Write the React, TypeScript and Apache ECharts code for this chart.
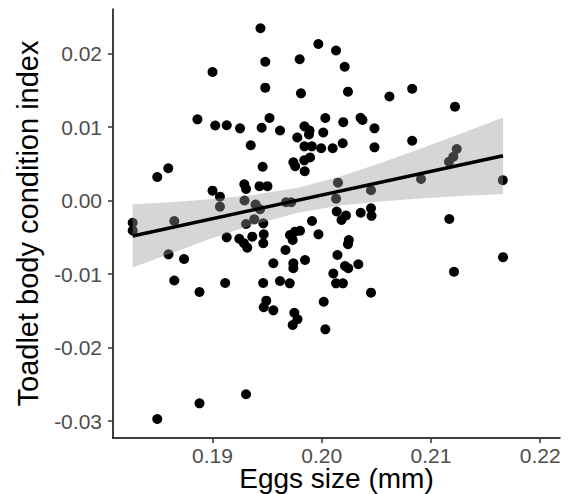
import React, { useEffect, useRef } from "react";
import * as echarts from "echarts";

// Egg size (mm) of each clutch
const eggSize = [
  0.19439, 0.19483, 0.19000, 0.19483, 0.18862, 0.19025, 0.19130, 0.19252, 0.19450, 0.19522,
  0.19618, 0.19350, 0.19459, 0.18595, 0.18494, 0.19000, 0.19068, 0.19291, 0.19307, 0.19430,
  0.19503, 0.19969, 0.19798, 0.20131, 0.20210, 0.19810, 0.20240, 0.20620, 0.20828, 0.21220,
  0.20033, 0.20197, 0.20355, 0.20373, 0.20483, 0.19842, 0.19888, 0.19883, 0.20014, 0.19776,
  0.19842, 0.19909, 0.19995, 0.20100, 0.20192, 0.20483, 0.20828, 0.19740, 0.19757, 0.19840,
  0.19893, 0.19844, 0.20149, 0.20131, 0.20451, 0.20909, 0.21165, 0.21205, 0.21236, 0.21658,
  0.19673, 0.19721, 0.19068, 0.19293, 0.19394, 0.19435, 0.18269, 0.18269, 0.18650, 0.19307,
  0.19382, 0.19465, 0.18597, 0.20137, 0.20222, 0.20181, 0.20357, 0.20451, 0.20456, 0.21168,
  0.19911, 0.19130, 0.19245, 0.19288, 0.19318, 0.19364, 0.19469, 0.19465, 0.18739, 0.19557,
  0.19709, 0.19755, 0.19801, 0.19734, 0.19970, 0.19668, 0.19740, 0.19740, 0.19847, 0.18650,
  0.18881, 0.19116, 0.19464, 0.19618, 0.19707, 0.19492, 0.19469, 0.19557, 0.20018, 0.19749,
  0.19778, 0.19734, 0.20033, 0.20144, 0.20248, 0.20240, 0.20213, 0.20243, 0.20335, 0.20106,
  0.20131, 0.20194, 0.20451, 0.21660, 0.21211, 0.19307, 0.18881, 0.18494,
];

// Toadlet body condition index
const conditionIndex = [
  0.02345, 0.01890, 0.01750, 0.01537, 0.01106, 0.01022, 0.01026, 0.00984, 0.00992, 0.01124,
  0.00954, 0.00753, 0.00461, 0.00440, 0.00321, 0.00135, 0.00053, 0.00223, 0.00158, 0.00196,
  0.00196, 0.02131, 0.01924, 0.02043, 0.01822, 0.01460, 0.01482, 0.01417, 0.01522, 0.01278,
  0.01124, 0.01067, 0.01128, 0.01097, 0.00984, 0.01011, 0.00954, 0.00900, 0.00927, 0.00859,
  0.00739, 0.00739, 0.00712, 0.00712, 0.00781, 0.00725, 0.00815, 0.00521, 0.00468, 0.00548,
  0.00587, 0.00399, 0.00244, 0.00026, 0.00142, 0.00294, 0.00529, 0.00597, 0.00702, 0.00278,
  -0.00023, -0.00023, -0.00083, 0.00001, -0.00053, -0.00118, -0.00301, -0.00407, -0.00278, -0.00319,
  -0.00255, -0.00309, -0.00731, -0.00148, -0.00203, -0.00264, -0.00165, -0.00105, -0.00207, -0.00250,
  -0.00278, -0.00500, -0.00519, -0.00581, -0.00641, -0.00491, -0.00459, -0.00581, -0.00795, -0.00853,
  -0.00468, -0.00423, -0.00410, -0.00536, -0.00459, -0.00672, -0.00853, -0.00921, -0.00808, -0.01087,
  -0.01244, -0.01121, -0.01121, -0.01094, -0.01126, -0.01362, -0.01452, -0.01493, -0.01376, -0.01526,
  -0.01615, -0.01693, -0.01752, -0.00740, -0.00536, -0.00593, -0.00890, -0.00921, -0.00866, -0.00992,
  -0.01126, -0.01126, -0.01253, -0.00770, -0.00968, -0.02636, -0.02759, -0.02972,
];

// Linear fit (end points) and its confidence band
const fitX = [0.18269, 0.2166];
const fitY = [-0.00482, 0.00611];
const bandX = [0.18269, 0.18611, 0.18977, 0.19343, 0.19783, 0.20167, 0.20533, 0.209, 0.21266, 0.2166];
const bandUpper = [-0.00051, -0.00021, 0.00017, 0.0007, 0.00176, 0.00328, 0.00508, 0.00704, 0.00908, 0.01131];
const bandLower = [-0.00912, -0.00722, -0.00524, -0.00341, -0.00164, -0.00068, -0.00012, 0.00028, 0.00061, 0.00091];

// Axes
const xTicks = [0.19, 0.2, 0.21, 0.22];
const yTicks = [-0.03, -0.02, -0.01, 0, 0.01, 0.02];
const xRange = [0.180888, 0.221815];
const yRange = [-0.032308, 0.026075];

const FONT = '"Liberation Sans", Arial, Helvetica, sans-serif';

export default function App() {
  const ref = useRef<HTMLDivElement>(null);

  useEffect(() => {
    if (!ref.current) return;
    const chart = echarts.init(ref.current, undefined, { renderer: "svg" });

    const points = eggSize.map((x, i) => [x, conditionIndex[i]]);
    const bandData = bandX.map((x, i) => [x, bandLower[i], bandUpper[i]]);

    chart.setOption({
      animation: false,
      backgroundColor: "#ffffff",
      textStyle: { fontFamily: FONT },
      grid: {
        left: 113,
        right: 13,
        top: 9,
        bottom: 56,
        containLabel: false,
        outerBoundsMode: "none",
      },
      xAxis: {
        type: "value",
        min: xRange[0],
        max: xRange[1],
        name: "Eggs size (mm)",
        nameLocation: "middle",
        nameGap: 26,
        nameMoveOverlap: false,
        nameTextStyle: { fontSize: 28, lineHeight: 28, color: "#000000", fontFamily: FONT },
        splitLine: { show: false },
        axisLine: { show: true, onZero: false, lineStyle: { color: "#000000", width: 1.5 } },
        axisTick: {
          show: true,
          length: 5,
          lineStyle: { color: "#333333", width: 1.5 },
          customValues: xTicks,
        },
        axisLabel: {
          fontSize: 21,
          lineHeight: 21,
          color: "#4D4D4D",
          margin: 7,
          fontFamily: FONT,
          customValues: xTicks,
          formatter: (v: number) => v.toFixed(2),
        },
      },
      yAxis: {
        type: "value",
        min: yRange[0],
        max: yRange[1],
        name: "Toadlet body condition index",
        nameLocation: "middle",
        nameGap: 71,
        nameMoveOverlap: false,
        nameTextStyle: { fontSize: 29, color: "#000000", fontFamily: FONT },
        splitLine: { show: false },
        axisLine: { show: true, onZero: false, lineStyle: { color: "#000000", width: 1.5 } },
        axisTick: {
          show: true,
          length: 5,
          lineStyle: { color: "#333333", width: 1.5 },
          customValues: yTicks,
        },
        axisLabel: {
          fontSize: 21,
          color: "#4D4D4D",
          margin: 11,
          fontFamily: FONT,
          customValues: yTicks,
          formatter: (v: number) => v.toFixed(2),
        },
      },
      series: [
        {
          type: "scatter",
          data: points,
          symbol: "circle",
          symbolSize: 10,
          itemStyle: { color: "#000000", opacity: 1 },
          z: 2,
        },
        {
          type: "custom",
          data: bandData,
          z: 3,
          silent: true,
          renderItem: (params: any, api: any) => {
            if (params.dataIndex !== 0) return null;
            const upper = bandX.map((x, i) => api.coord([x, bandUpper[i]]));
            const lower = bandX.map((x, i) => api.coord([x, bandLower[i]])).reverse();
            return {
              type: "polygon",
              shape: { points: upper.concat(lower) },
              style: { fill: "rgba(153,153,153,0.4)", stroke: "none" },
            };
          },
          encode: { x: 0, y: [1, 2] },
        },
        {
          type: "line",
          data: fitX.map((x, i) => [x, fitY[i]]),
          showSymbol: false,
          symbol: "none",
          lineStyle: { color: "#000000", width: 3.5 },
          z: 4,
        },
      ],
    });

    return () => chart.dispose();
  }, []);

  return (
    <div
      ref={ref}
      style={{ position: "fixed", left: 0, top: 0, width: 573, height: 494, background: "#fff" }}
    />
  );
}
